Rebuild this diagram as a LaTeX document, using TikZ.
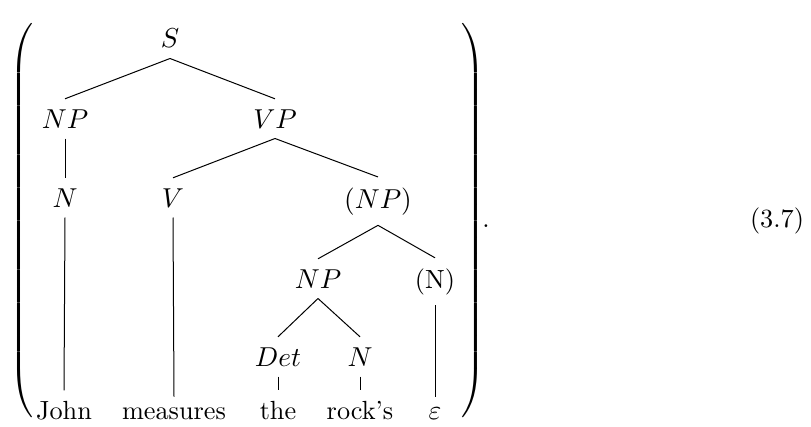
\documentclass[tikz,border=0pt]{standalone}
\usepackage{amsmath}
\usepackage{tikz}
\usetikzlibrary{positioning}

% tall delimiter of a given height
\newcommand{\tallparen}[2]{{\delimiterfactor=1000 \delimitershortfall=0pt
  \nulldelimiterspace=0pt
  $\left#1\vcenter{\hrule height #2 width 0pt}\right.$}}

\begin{document}
\begin{tikzpicture}[x=0.4pt, y=-0.4pt, font=\fontsize{10.5}{12}\selectfont,
  cat/.style={anchor=base, inner sep=4pt}]

\useasboundingbox (0,0) rectangle (811,426);

% categories
\node[cat] (s)   at (170,48)  {$S$};
\node[cat] (np)  at (65,128)  {$NP$};
\node[cat] (vp)  at (275,128) {$VP$};
\node[cat] (n)   at (65,207)  {$N$};
\node[cat] (v)   at (173,207) {$V$};
\node[cat] (onp) at (378,208) {$(NP)$};
\node[cat] (npb) at (318,288) {$NP$};
\node[cat] (on)  at (435,288) {(N)};
\node[cat] (det) at (278,366) {$Det$};
\node[cat] (nb)  at (360,366) {$N$};

% words
\node[cat] (john)  at (64,419)  {John};
\node[cat] (meas)  at (174,419) {measures};
\node[cat] (the)   at (278,419) {the};
\node[cat] (rocks) at (360,419) {rock's};
\node[cat] (eps)   at (435,419) {$\varepsilon$};

\foreach \p/\c in {s/np, s/vp, np/n, vp/v, vp/onp, onp/npb, onp/on,
                   npb/det, npb/nb, n/john, v/meas, det/the, nb/rocks, on/eps}
  \draw (\p.south) -- (\c.north);

% brackets and equation number
\node[inner sep=0] (lpar) at (21,221)  {\tallparen{(}{155pt}};
\node[inner sep=0] (rpar) at (473,221) {\tallparen{)}{155pt}};
\node[anchor=base, inner sep=0] (dot)  at (486,227) {.};
\node[anchor=base, inner sep=0] (eqno) at (777,227) {(3.7)};

\end{tikzpicture}
\end{document}
